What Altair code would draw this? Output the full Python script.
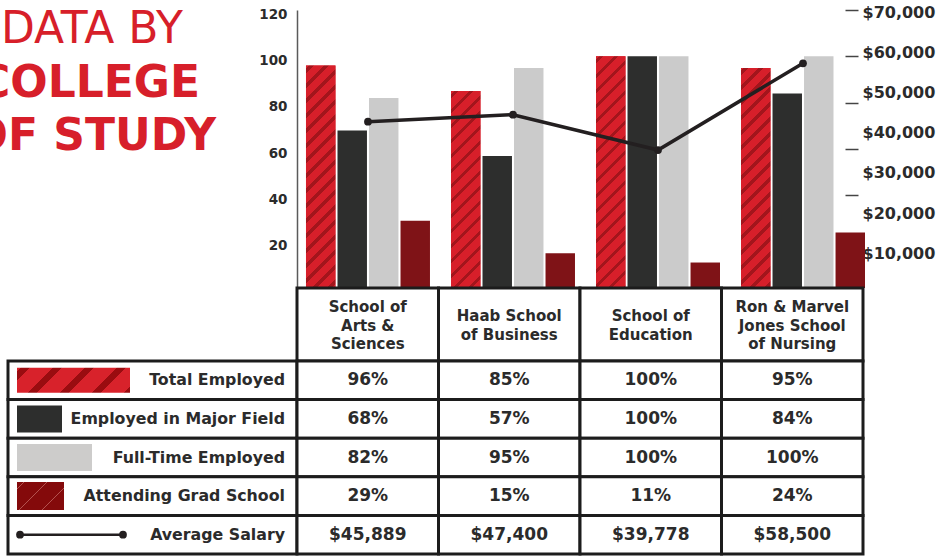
import altair as alt
import pandas as pd

# ---------------- data ----------------
schools = ["Arts & Sciences", "Business", "Education", "Nursing"]
school_headers = [
    "School of\nArts &\nSciences",
    "Haab School\nof Business",
    "School of\nEducation",
    "Ron & Marvel\nJones School\nof Nursing",
]
metrics = ["Total Employed", "Employed in Major Field", "Full-Time Employed", "Attending Grad School"]
total_employed = [96, 85, 100, 95]
employed_major = [68, 57, 100, 84]
full_time = [82, 95, 100, 100]
grad_school = [29, 15, 11, 24]
avg_salary = [45889, 47400, 39778, 58500]
row_names = metrics + ["Average Salary"]
left_ticks = [20, 40, 60, 80, 100, 120]
salary_tick_marks = [30000, 40000, 50000, 60000, 70000]
salary_tick_labels = [10000, 20000, 30000, 40000, 50000, 60000, 70000]
title_lines = ["DATA BY", "COLLEGE", "OF STUDY"]

# ---------------- styles ----------------
FONT = "DejaVu Sans"
RED = "#d71f2a"
STRIPE = "#a3151c"
DARK = "#2d2e2d"
LIGHT = "#cbcbcb"
DRED = "#7f1317"
INK = "#2b2b2b"
LINE = "#231f20"
BORDER = "#1c1c1c"

W, H = 568, 278          # main plot
TW = 566                 # table width
HEAD_H, BODY_H, LEG_W = 73, 193, 297


def hatch(w, h, period, dark, base, stripe, phase=0.0):
    """Linear gradient giving 45-degree '/' stripes on a w x h box."""
    total = w + h
    k = total / (w * w + h * h)
    stops = [{"offset": 0, "color": base}]
    pos = phase
    while pos < total:
        a = round(max(pos, 0) / total, 5)
        b = round(min(pos + dark, total) / total, 5)
        stops += [
            {"offset": a, "color": base},
            {"offset": a, "color": stripe},
            {"offset": b, "color": stripe},
            {"offset": b, "color": base},
        ]
        pos += period
    stops.append({"offset": 1, "color": base})
    return {"gradient": "linear", "x1": 0, "y1": 0, "x2": w * k, "y2": h * k, "stops": stops}


# ---------------- frames ----------------
series = {
    "Total Employed": total_employed,
    "Employed in Major Field": employed_major,
    "Full-Time Employed": full_time,
    "Attending Grad School": grad_school,
}
bar_rows = []
for m in metrics:
    for s, v in zip(schools, series[m]):
        bar_rows.append({"school": s, "metric": m, "value": v})
bars_df = pd.DataFrame(bar_rows)
sal_df = pd.DataFrame({"school": schools, "salary": avg_salary})
head_df = pd.DataFrame({
    "school": schools,
    "header": school_headers,
    "nlines": [h.count("\n") + 1 for h in school_headers],
})

cell_rows = []
for m in metrics:
    for s, v in zip(schools, series[m]):
        cell_rows.append({"school": s, "row": m, "label": f"{v}%"})
for s, v in zip(schools, avg_salary):
    cell_rows.append({"school": s, "row": "Average Salary", "label": f"${v:,}"})
cells_df = pd.DataFrame(cell_rows)
leg_df = pd.DataFrame({"row": row_names})

# ---------------- main chart ----------------
xsc = alt.Scale(domain=schools, paddingInner=0.145, paddingOuter=0.031, align=1)
X = alt.X("school:N", scale=xsc, axis=None)
XO = alt.XOffset("metric:N", scale=alt.Scale(domain=metrics, paddingInner=0.065, paddingOuter=0))
Y = alt.Y(
    "value:Q",
    scale=alt.Scale(domain=[0, 120], nice=False, zero=True),
    axis=alt.Axis(
        orient="left", values=left_ticks, ticks=False, grid=False,
        domainColor="#5a5a5a", domainWidth=1.5, labelPadding=10, labelOffset=4,
        labelFont=FONT, labelFontWeight="bold", labelFontSize=13.5, labelColor=INK, title=None,
    ),
)

base_bars = alt.Chart(bars_df).mark_bar().encode(
    x=X, xOffset=XO, y=Y,
    color=alt.Color("metric:N", scale=alt.Scale(domain=metrics, range=[RED, DARK, LIGHT, DRED]), legend=None),
)

bar_w = 29.46
hatch_layers = []
for s, v in zip(schools, total_employed):
    h = v / 120 * H
    hatch_layers.append(
        alt.Chart(bars_df)
        .transform_filter((alt.datum.school == s) & (alt.datum.metric == "Total Employed"))
        .mark_bar(fill=hatch(bar_w, h, 15, 4.5, RED, STRIPE, phase=3))
        .encode(x=X, xOffset=XO, y=Y)
    )

bars = alt.layer(base_bars, *hatch_layers)

line = alt.Chart(sal_df).mark_line(
    color=LINE, strokeWidth=3.5,
    point=alt.OverlayMarkDef(color=LINE, size=60, filled=True, opacity=1),
).encode(
    x=X,
    y=alt.Y(
        "salary:Q",
        scale=alt.Scale(domain=[10000, 70000], nice=False, zero=False),
        axis=alt.Axis(
            orient="right", values=salary_tick_marks, labels=False, domain=False,
            tickSize=13, tickWidth=1.5, tickColor="#444444", offset=-20, grid=False, title=None,
        ),
    ),
)

label_axis = alt.Chart(sal_df).mark_point(opacity=0).encode(
    x=X,
    y=alt.Y(
        "salary:Q",
        scale=alt.Scale(domain=[1350, 70500], nice=False, zero=False),
        axis=alt.Axis(
            orient="right", values=salary_tick_labels, format="$,.0f", ticks=False, domain=False,
            labelPadding=0, offset=-3, grid=False, title=None,
            labelFont=FONT, labelFontWeight="bold", labelFontSize=16, labelColor=INK,
        ),
    ),
)

main = alt.layer(bars, line, label_axis).resolve_scale(y="independent").properties(width=W, height=H)

# ---------------- title ----------------
def title_text(txt, size, weight, xr, yb):
    return alt.Chart(pd.DataFrame({"t": [txt]})).mark_text(
        font=FONT, fontSize=size, fontWeight=weight, color=RED,
        align="right", baseline="alphabetic", clip=True,
    ).encode(x=alt.value(xr), y=alt.value(yb), text="t:N")

title = alt.layer(
    title_text(title_lines[0], 44, "normal", 183, 33),
    title_text(title_lines[1], 44, "bold", 200, 87),
    title_text(title_lines[2], 44, "bold", 216, 140),
).properties(width=LEG_W, height=H)

blank = alt.Chart(pd.DataFrame({"a": [0]})).mark_point(opacity=0).encode(
    x=alt.value(12), y=alt.value(1)
).properties(width=LEG_W, height=HEAD_H)

# ---------------- table header ----------------
hx = alt.X("school:N", scale=alt.Scale(domain=schools, paddingInner=0, paddingOuter=0), axis=None)
head_rect = alt.Chart(head_df).mark_rect(fill="white", stroke=BORDER, strokeWidth=3).encode(
    x=hx, y=alt.value(0), y2=alt.value(HEAD_H)
)


def head_text(n, dy):
    return alt.Chart(head_df).transform_filter(alt.datum.nlines == n).mark_text(
        font=FONT, fontWeight="bold", fontSize=15, lineBreak="\n", lineHeight=18.5,
        color=INK, baseline="middle", dy=dy,
    ).encode(x=hx, y=alt.value(HEAD_H / 2 + 1), text="header:N")


header = alt.layer(head_rect, head_text(2, -9.25), head_text(3, -18.5)).properties(width=TW, height=HEAD_H)

# ---------------- table body ----------------
ry = alt.Y("row:N", scale=alt.Scale(domain=row_names, paddingInner=0, paddingOuter=0), axis=None)
body_rect = alt.Chart(cells_df).mark_rect(fill="white", stroke=BORDER, strokeWidth=3).encode(x=hx, y=ry)
body_text = alt.Chart(cells_df).mark_text(
    font=FONT, fontWeight="bold", fontSize=17, color=INK, baseline="middle",
).encode(x=hx, y=ry, text="label:N")
body = alt.layer(body_rect, body_text).properties(width=TW, height=BODY_H)

# ---------------- legend column ----------------
leg_rect = alt.Chart(leg_df).mark_rect(fill="white", stroke=BORDER, strokeWidth=3).encode(
    x=alt.value(8), x2=alt.value(LEG_W), y=ry
)
leg_text = alt.Chart(leg_df).mark_text(
    font=FONT, fontWeight="bold", fontSize=15.8, color=INK, align="right", baseline="middle",
).encode(x=alt.value(285), y=ry, text="row:N")


def swatch(row, x2, hgt, fill):
    return alt.Chart(leg_df).transform_filter(alt.datum.row == row).mark_bar(
        height=hgt, fill=fill
    ).encode(x=alt.value(17), x2=alt.value(x2), y=ry)


sw1 = swatch(metrics[0], 130, 25, hatch(113, 25, 32, 9, "#d8222b", "#9a0c10", phase=4))
sw2 = swatch(metrics[1], 62, 27, DARK)
sw3 = swatch(metrics[2], 92, 27, "#cdcccb")
sw4 = swatch(metrics[3], 64, 28, hatch(47, 28, 23, 1.2, "#840a0b", "#b4524f", phase=6))

sal_rows = alt.Chart(leg_df).transform_filter(alt.datum.row == "Average Salary")
sw5_line = sal_rows.mark_rule(color=LINE, strokeWidth=2.5).encode(x=alt.value(20), x2=alt.value(123), y=ry)
sw5_a = sal_rows.mark_circle(size=60, color=LINE, opacity=1).encode(x=alt.value(20), y=ry)
sw5_b = sal_rows.mark_circle(size=60, color=LINE, opacity=1).encode(x=alt.value(123), y=ry)

legend_col = alt.layer(
    leg_rect, leg_text, sw1, sw2, sw3, sw4, sw5_line, sw5_a, sw5_b
).properties(width=LEG_W, height=BODY_H)

chart = (
    alt.concat(title, main, blank, header, legend_col, body, columns=2, spacing=0, bounds="flush")
    .configure_view(stroke=None)
    .properties(background="white", padding={"left": 0, "top": 4, "right": 5, "bottom": 0})
)

chart.save("out.html", embed_options={"renderer": "svg", "actions": False})
